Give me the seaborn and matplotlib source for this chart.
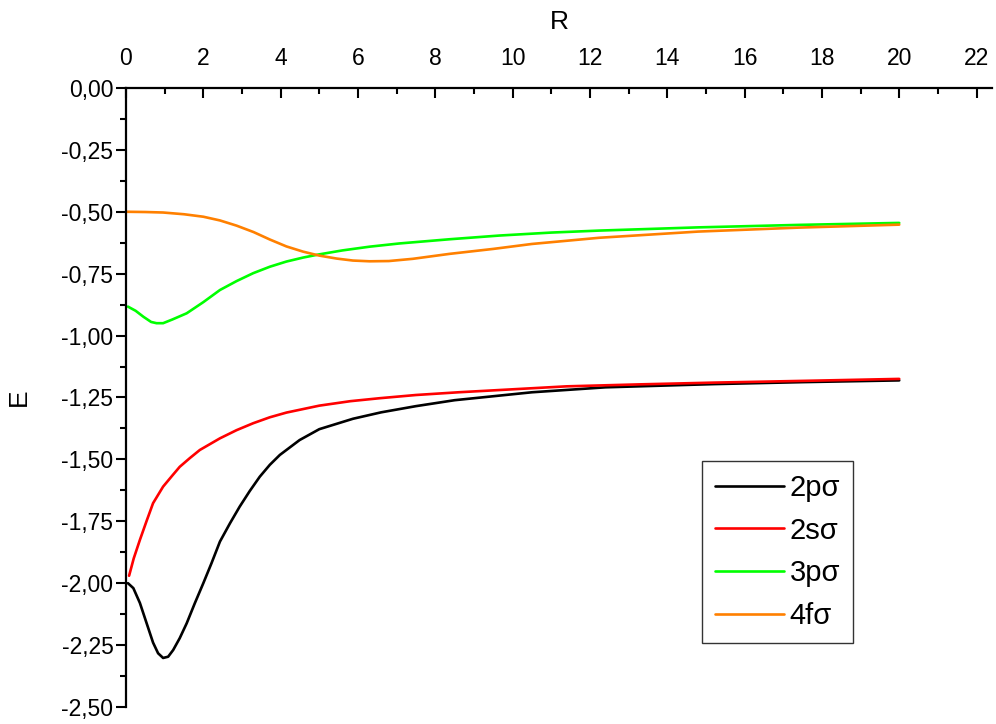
import matplotlib; matplotlib.use("Agg")
import matplotlib.pyplot as plt
from matplotlib.ticker import MultipleLocator, FuncFormatter
import pandas as pd
import seaborn as sns

# ── data (one R grid per curve) ─────────────────────────────────────────────
R_2p = [0.05, 0.19, 0.36, 0.53, 0.70, 0.83, 0.96, 1.09, 1.22, 1.39, 1.57, 1.78,
        2.00, 2.21, 2.43, 2.69, 2.94, 3.20, 3.46, 3.72, 3.98, 4.49, 5.0, 5.87,
        6.6, 7.5, 8.5, 10.5, 12.4, 15.2, 17.5, 20.0]
E_2p = [-2.00, -2.02, -2.08, -2.16, -2.24, -2.283, -2.302, -2.297, -2.27,
        -2.222, -2.162, -2.081, -2.00, -1.92, -1.832, -1.758, -1.691, -1.628,
        -1.57, -1.522, -1.482, -1.422, -1.378, -1.336, -1.31, -1.285, -1.261,
        -1.229, -1.209, -1.196, -1.188, -1.181]

R_2s = [0.08, 0.2, 0.36, 0.53, 0.70, 0.96, 1.2, 1.39, 1.65, 1.91, 2.43, 2.86,
        3.29, 3.72, 4.15, 5.0, 5.8, 6.56, 7.5, 8.6, 10.0, 11.4, 13.3, 15.2,
        17.5, 20.0]
E_2s = [-1.97, -1.90, -1.825, -1.75, -1.677, -1.61, -1.565, -1.53, -1.495,
        -1.462, -1.415, -1.382, -1.354, -1.33, -1.311, -1.283, -1.265, -1.253,
        -1.24, -1.229, -1.217, -1.205, -1.197, -1.19, -1.183, -1.175]

R_3p = [0.05, 0.25, 0.45, 0.65, 0.79, 0.96, 1.2, 1.57, 2.0, 2.43, 2.86, 3.29,
        3.72, 4.15, 4.58, 5.0, 5.6, 6.3, 7.07, 8.37, 9.66, 11.0, 12.24, 14.8,
        17.4, 20.0]
E_3p = [-0.883, -0.90, -0.924, -0.945, -0.95, -0.95, -0.935, -0.91, -0.865,
        -0.816, -0.78, -0.748, -0.722, -0.701, -0.685, -0.672, -0.656, -0.641,
        -0.628, -0.611, -0.596, -0.584, -0.576, -0.563, -0.553, -0.545]

R_4f = [0.0, 0.5, 0.96, 1.5, 2.0, 2.43, 2.86, 3.3, 3.72, 4.15, 4.58, 5.0,
        5.45, 5.87, 6.3, 6.8, 7.42, 8.37, 9.5, 10.5, 12.24, 14.8, 17.4, 20.0]
E_4f = [-0.50, -0.501, -0.503, -0.51, -0.52, -0.535, -0.556, -0.582, -0.612,
        -0.64, -0.661, -0.677, -0.689, -0.697, -0.70, -0.699, -0.69, -0.67,
        -0.65, -0.63, -0.605, -0.58, -0.564, -0.552]

STATES = ["2p\u03c3", "2s\u03c3", "3p\u03c3", "4f\u03c3"]
COLORS = ["#000000", "#ff0000", "#00ff00", "#ff8000"]

df = pd.concat([
    pd.DataFrame({"R": r, "E": e, "state": s})
    for s, r, e in zip(STATES, [R_2p, R_2s, R_3p, R_4f], [E_2p, E_2s, E_3p, E_4f])
], ignore_index=True)

sns.set_theme(style="white")
plt.rcParams["font.family"] = ["Liberation Sans", "DejaVu Sans"]
plt.rcParams.update({"text.color": "black", "axes.labelcolor": "black",
                     "xtick.color": "black", "ytick.color": "black"})

fig = plt.figure(figsize=(9.96, 7.24), dpi=100)
ax = fig.add_axes([0.1265, 0.0235, 0.8695, 0.855])

sns.lineplot(data=df, x="R", y="E", hue="state", hue_order=STATES,
             palette=COLORS, estimator=None, sort=False, linewidth=1.9, ax=ax)

ax.set_xlim(0, 22.4)
ax.set_ylim(-2.5, 0)
ax.xaxis.tick_top()
ax.xaxis.set_label_position("top")
ax.xaxis.set_major_locator(MultipleLocator(2))
ax.xaxis.set_minor_locator(MultipleLocator(1))
ax.yaxis.set_major_locator(MultipleLocator(0.25))
ax.yaxis.set_minor_locator(MultipleLocator(0.125))
ax.yaxis.set_major_formatter(FuncFormatter(lambda v, p: f"{v:.2f}".replace(".", ",")))

ax.spines[["bottom", "right"]].set_visible(False)
for sp in ["top", "left"]:
    ax.spines[sp].set_linewidth(1.6)
    ax.spines[sp].set_color("black")

ax.tick_params(axis="x", which="both", direction="in", top=True, bottom=False,
               width=1.5, labelsize=16.5, pad=13)
ax.tick_params(axis="x", which="major", length=7)
ax.tick_params(axis="x", which="minor", length=4)
ax.tick_params(axis="y", which="both", direction="out", left=True,
               width=1.5, labelsize=16.5, pad=2)
ax.tick_params(axis="y", which="major", length=7)
ax.tick_params(axis="y", which="minor", length=4)

ax.set_xlabel("R", fontsize=19, labelpad=13)
ax.set_ylabel("E", fontsize=19, labelpad=22)

handles, labels = ax.get_legend_handles_labels()
leg = ax.legend(handles, labels, loc="upper left", bbox_to_anchor=(0.7048, 0.3633),
                bbox_transform=fig.transFigure, fontsize=21, frameon=True,
                fancybox=False, edgecolor="black", handlelength=2.35,
                handletextpad=0.2, labelspacing=0.5, borderpad=0.45,
                borderaxespad=0)
leg.get_frame().set_linewidth(1.0)
for line in leg.get_lines():
    line.set_linewidth(1.9)

fig.savefig("out.png", dpi=100)
